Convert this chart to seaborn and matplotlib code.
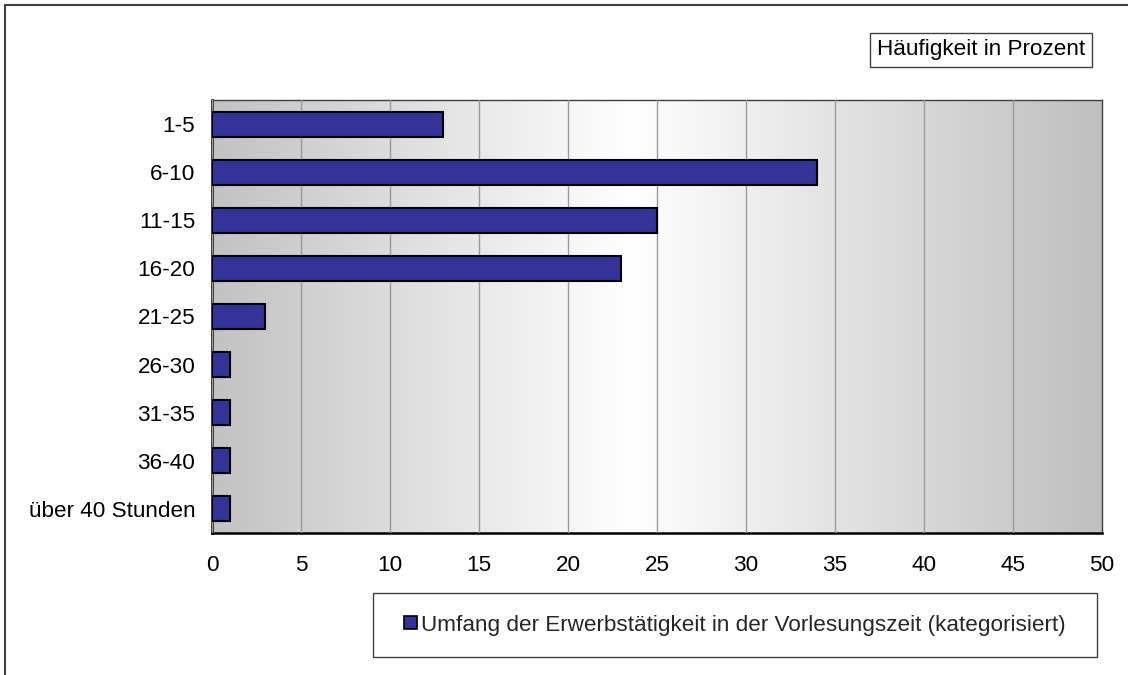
import numpy as np
import pandas as pd
import seaborn as sns
import matplotlib
matplotlib.use('Agg')
import matplotlib.pyplot as plt
from matplotlib.patches import Rectangle, Patch

# Daten
kategorien = ["1-5", "6-10", "11-15", "16-20", "21-25",
              "26-30", "31-35", "36-40", "über 40 Stunden"]
prozent = [13, 34, 25, 23, 3, 1, 1, 1, 1]
x_ticks = [0, 5, 10, 15, 20, 25, 30, 35, 40, 45, 50]
legend_label = "Umfang der Erwerbstätigkeit in der Vorlesungszeit (kategorisiert)"
titel = "Häufigkeit in Prozent"

df = pd.DataFrame({"kategorie": kategorien, "prozent": prozent})

sns.set_theme(style="white")
plt.rcParams['font.family'] = ['Liberation Sans', 'DejaVu Sans']
FS = 16.2

W, H = 1128, 675
fig = plt.figure(figsize=(W / 100, H / 100), dpi=100)
ax = fig.add_axes([212 / W, 1 - 533 / H, (1102 - 212) / W, (533 - 100) / H])

# Hintergrund-Verlauf grau -> weiss -> grau
pos = np.linspace(0, 1, 400)
grau = np.interp(pos, [0, 0.47, 1], [0.76, 1.0, 0.75])
grad = np.repeat(grau[None, :, None], 3, axis=2)
ax.imshow(grad, extent=(0, 1, 0, 1), transform=ax.transAxes,
          aspect="auto", zorder=0)

sns.barplot(data=df, x="prozent", y="kategorie", orient="h", ax=ax,
            color="#333399", saturation=1, edgecolor="black",
            linewidth=1.5, width=0.52, zorder=3)

ax.set_xlim(0, 50)
ax.set_ylim(8.5, -0.5)
ax.set_xticks(x_ticks)
ax.set_xticklabels([str(t) for t in x_ticks])
ax.xaxis.grid(True, color="#9a9a9a", linewidth=1)
ax.yaxis.grid(False)
ax.set_axisbelow(False)
for gl in ax.get_xgridlines():
    gl.set_zorder(1)
ax.set(xlabel=None, ylabel=None)
ax.tick_params(axis="both", length=0, labelsize=FS, colors="black")
ax.tick_params(axis="x", pad=16)
ax.tick_params(axis="y", pad=12)

for side in ["left", "bottom"]:
    ax.spines[side].set_color("black")
    ax.spines[side].set_linewidth(1.8)
for side in ["top", "right"]:
    ax.spines[side].set_color("#404040")
    ax.spines[side].set_linewidth(1.0)

# Titel-Kasten oben rechts
fig.text(981 / W, 1 - 50 / H, titel, ha="center", va="center",
         fontsize=FS, color="black",
         bbox=dict(boxstyle="square,pad=0.3", facecolor="white",
                   edgecolor="#404040", linewidth=1))

# Legenden-Kasten
fig.patches.append(Rectangle((373 / W, 1 - 657 / H), (1097 - 373) / W,
                             (657 - 593) / H, transform=fig.transFigure,
                             facecolor="white", edgecolor="#404040",
                             linewidth=1, zorder=1))
handle = Patch(facecolor="#333399", edgecolor="black", linewidth=1.2)
fig.legend([handle], [legend_label], loc="center",
           bbox_to_anchor=(735 / W, 1 - 625 / H), frameon=False,
           fontsize=FS, handlelength=0.55, handleheight=0.55,
           handletextpad=0.2)

# Rahmen um die Grafik
fig.patches.append(Rectangle((5 / W, -0.01), 1.02, 1 - 5 / H + 0.01,
                             transform=fig.transFigure, facecolor="none",
                             edgecolor="#404040", linewidth=1.5))

fig.savefig("out.png", dpi=100)
